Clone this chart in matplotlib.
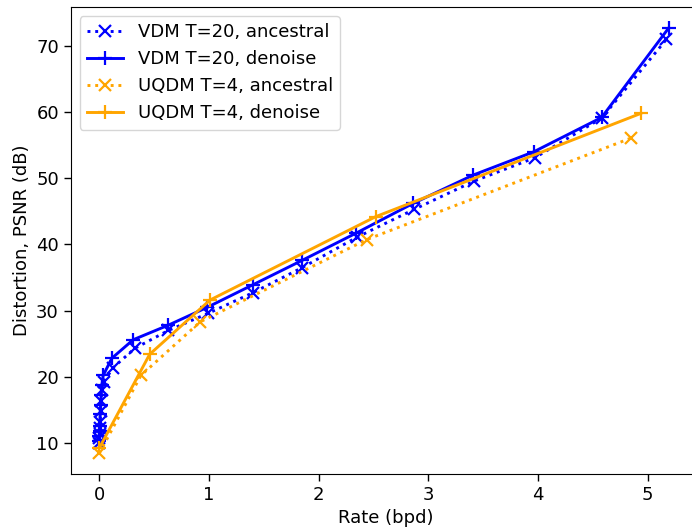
import matplotlib
matplotlib.use("Agg")
import matplotlib.pyplot as plt

# VDM T=20
vdm_anc_x = [0.0, 0.002, 0.004, 0.006, 0.009, 0.013, 0.018, 0.025, 0.04, 0.128, 0.325, 0.63, 0.995, 1.40, 1.85, 2.35, 2.87, 3.42, 3.97, 4.58, 5.17]
vdm_anc_y = [10.0, 10.8, 11.4, 12.2, 13.2, 14.8, 16.4, 18.0, 19.2, 21.4, 24.3, 27.0, 29.6, 32.7, 36.5, 41.1, 45.3, 49.6, 53.1, 59.1, 71.0]
vdm_den_x = [0.0, 0.002, 0.004, 0.006, 0.009, 0.013, 0.018, 0.025, 0.036, 0.115, 0.31, 0.63, 0.985, 1.40, 1.85, 2.34, 2.86, 3.41, 3.96, 4.58, 5.19]
vdm_den_y = [10.3, 11.0, 11.8, 12.6, 14.4, 15.8, 17.2, 18.8, 20.2, 22.8, 25.6, 27.8, 30.5, 33.9, 37.6, 41.7, 46.2, 50.5, 54.0, 59.2, 72.7]

# UQDM T=4
uqdm_anc_x = [0.0, 0.38, 0.92, 2.44, 4.85]
uqdm_anc_y = [8.4, 20.2, 28.3, 40.75, 56.1]
uqdm_den_x = [0.0, 0.46, 1.01, 2.52, 4.935]
uqdm_den_y = [9.2, 23.4, 31.6, 44.2, 59.8]

labels = ["VDM T=20, ancestral", "VDM T=20, denoise", "UQDM T=4, ancestral", "UQDM T=4, denoise"]

fig = plt.figure(figsize=(6.92, 5.27), dpi=100)
ax = fig.add_axes([70.7/692, 53/527, (700-70.7)/692, 467/527])

lw = 2.1
ms = 9
mew = 1.6
ax.plot(vdm_anc_x, vdm_anc_y, ':', color='blue', marker='x', lw=lw, ms=ms, mew=mew, label=labels[0])
ax.plot(vdm_den_x, vdm_den_y, '-', color='blue', marker='+', lw=lw, ms=ms+1, mew=mew, label=labels[1])
ax.plot(uqdm_anc_x, uqdm_anc_y, ':', color='orange', marker='x', lw=lw, ms=ms, mew=mew, label=labels[2])
ax.plot(uqdm_den_x, uqdm_den_y, '-', color='orange', marker='+', lw=lw, ms=ms+1, mew=mew, label=labels[3])

ax.set_xlim(-0.26, -0.26 + (700-70.7)/109.7)
ax.set_ylim(5.3, 75.9)
fs = 13
ax.tick_params(labelsize=fs, length=5, width=1)
ax.set_xlabel("Rate (bpd)", fontsize=fs)
ax.set_ylabel("Distortion, PSNR (dB)", fontsize=fs)
ax.legend(loc='upper left', fontsize=fs)

fig.savefig("out.png", dpi=100)
